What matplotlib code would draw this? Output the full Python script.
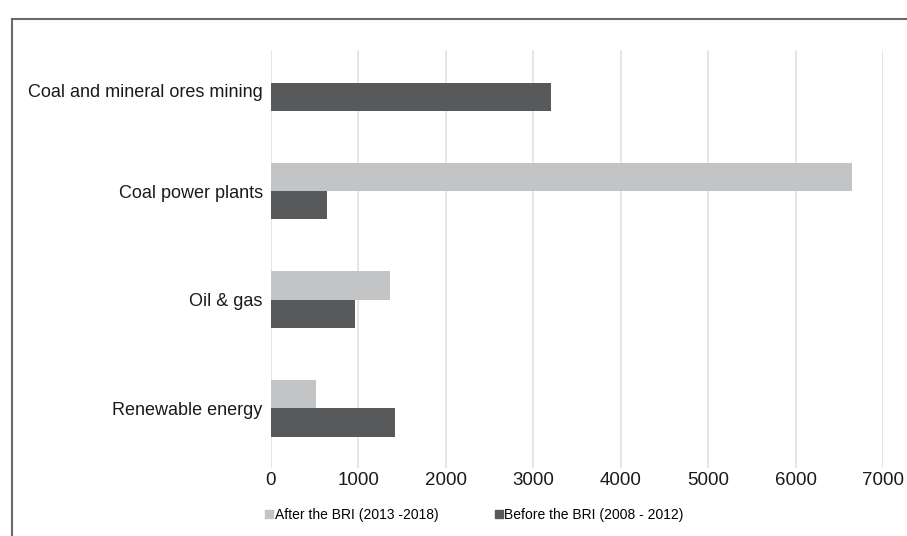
import matplotlib.pyplot as plt
import matplotlib.transforms as mtransforms
import numpy as np
from matplotlib.lines import Line2D

plt.rcParams['font.family'] = ['Liberation Sans', 'DejaVu Sans']

# investment by sector, before / after the BRI
sectors = ['Coal and mineral ores mining', 'Coal power plants', 'Oil & gas', 'Renewable energy']
after_bri = [0, 6640, 1360, 520]
before_bri = [3200, 640, 960, 1420]
xticks = [0, 1000, 2000, 3000, 4000, 5000, 6000, 7000]

light = '#c3c4c6'
dark = '#58595b'

fig = plt.figure(figsize=(9.07, 5.36), dpi=100)
ax = fig.add_axes([271 / 907, 1 - 468 / 536, (883 - 271) / 907, (468 - 50) / 536])

y = np.arange(len(sectors))
h = 0.26
ax.barh(y - h / 2, after_bri, height=h, color=light, label='After the BRI (2013 -2018)', zorder=3)
ax.barh(y + h / 2, before_bri, height=h, color=dark, label='Before the BRI (2008 - 2012)', zorder=3)

ax.set_xlim(0, 7000)
ax.set_ylim(3.55, -0.3)
ax.set_xticks(xticks)
ax.set_yticks(y)
ax.set_yticklabels(sectors, fontsize=13, color='#1a1a1a')
ax.tick_params(axis='x', labelsize=13.5, colors='#1a1a1a', length=0, pad=3)
ax.tick_params(axis='y', length=0, pad=6)
ax.grid(axis='x', color='#e2e2e2', linewidth=1.2, zorder=0)
for s in ax.spines.values():
    s.set_visible(False)

# first label sits a little lower, next to its single bar
lbl = ax.get_yticklabels()[0]
lbl.set_transform(lbl.get_transform() + mtransforms.ScaledTranslation(0, -8 / 100, fig.dpi_scale_trans))

handles = [Line2D([], [], marker='s', linestyle='none', markersize=6, color=light),
           Line2D([], [], marker='s', linestyle='none', markersize=6, color=dark)]
fig.legend(handles, ['After the BRI (2013 -2018)', 'Before the BRI (2008 - 2012)'],
           loc='center left', bbox_to_anchor=(265 / 907, 1 - 515 / 536), ncol=2,
           frameon=False, fontsize=10, handlelength=0.6, handletextpad=0.1,
           columnspacing=4.05, borderpad=0, borderaxespad=0)

# frame around the figure (cut off on the right and bottom)
fig.add_artist(Line2D([11.5 / 907, 11.5 / 907], [0, 1 - 18.5 / 536], transform=fig.transFigure,
                      color='#6a6a6a', linewidth=1.5))
fig.add_artist(Line2D([11.5 / 907, 1], [1 - 18.5 / 536, 1 - 18.5 / 536], transform=fig.transFigure,
                      color='#6a6a6a', linewidth=1.5))

fig.savefig('out.png', dpi=100)
